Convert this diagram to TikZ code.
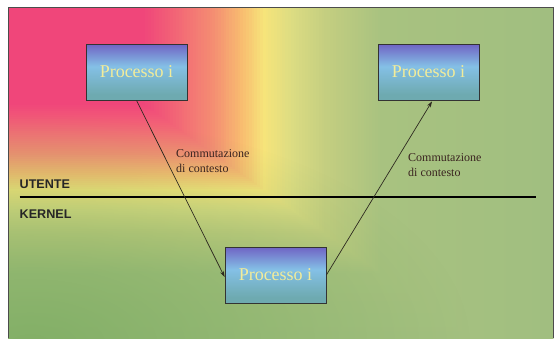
\documentclass[tikz,border=0pt]{standalone}
\usepackage{fontspec}
\setmainfont{Liberation Serif}
\newfontfamily\labsans{Liberation Sans}
\usetikzlibrary{arrows.meta,calc,fadings}
\definecolor{cpink}{HTML}{F0467A}
\definecolor{cpink2}{HTML}{F26476}
\definecolor{csalmon}{HTML}{F48E72}
\definecolor{corange}{HTML}{F8BC70}
\definecolor{cyellow}{HTML}{F6E47A}
\definecolor{cpale}{HTML}{DCDC82}
\definecolor{colive}{HTML}{C4CE80}
\definecolor{cgreen}{HTML}{A8C280}
\definecolor{cgreen2}{HTML}{A0BE80}
\definecolor{cdeep}{HTML}{74A85C}
\definecolor{boxtop}{HTML}{6A4CBC}
\definecolor{boxmid}{HTML}{84C0E6}
\definecolor{boxbot}{HTML}{6EAAB0}
\definecolor{ptext}{HTML}{F2EC9A}
\definecolor{ltext}{HTML}{3A2420}
\definecolor{arrowc}{HTML}{2E2A20}
\pgfdeclareverticalshading{boxshade}{100bp}{color(0bp)=(boxbot); color(30bp)=(boxbot); color(55bp)=(boxmid); color(80bp)=(boxtop); color(100bp)=(boxtop)}
\tikzfading[name=blobfade, inner color=transparent!0, outer color=transparent!100]
\begin{document}
\begin{tikzpicture}[x=1pt,y=-1pt,
  pbox/.style={draw=black!80, line width=0.8pt, shading=boxshade, minimum width=101pt, minimum height=56pt, inner sep=0pt, text=ptext, font=\fontsize{18}{20}\selectfont},
  lab/.style={text=ltext, font=\fontsize{12}{14.5}\selectfont, align=left, inner sep=0pt, anchor=north west},
  layer/.style={text=black!85, font=\labsans\bfseries\fontsize{12.6}{14}\selectfont, inner sep=0pt, anchor=base west},
  conn/.style={draw=arrowc, line width=0.7pt, -{Stealth[length=6pt,width=4pt]}}]
\useasboundingbox (0,0) rectangle (555,338);
\fill[white] (0,0) rectangle (555,338);
\begin{scope}
\clip (8,7) rectangle (553,338);
\foreach \ta/\tb/\ca/\cb in {268/400/cgreen/cgreen2, 228/268/colive/cgreen, 204/228/cpale/colive, 184/204/cyellow/cpale, 168/184/corange/cyellow, 148/168/csalmon/corange, 120/148/cpink2/csalmon, 98/120/cpink/cpink2, 0/98/cpink/cpink}{
  \pgfmathtruncatemacro{\n}{(\tb-\ta)/2}
  \foreach \i in {0,...,\n}{
    \pgfmathsetmacro{\t}{\tb-2*\i}
    \pgfmathtruncatemacro{\p}{100*(\t-\ta)/(\tb-\ta)}
    \colorlet{cur}{\cb!\p!\ca}
    \fill[cur] (8,7) rectangle ({8+1.40*\t},{7+\t});
  }
}
\fill[cdeep, fill opacity=0.7, path fading=blobfade] (30,345) ellipse [x radius=440, y radius=230];
\end{scope}
\draw[black!70, line width=0.8pt] (8,338) -- (8,7) -- (553,7) -- (553,338);
\node[pbox] (b1) at (136.5,72) {Processo i};
\node[pbox] (b2) at (428.5,72) {Processo i};
\node[pbox] (b3) at (275.5,275) {Processo i};
\coordinate (la) at (19.5,197);
\coordinate (lb) at (536,197);
\draw[black, line width=2pt] (la) -- (lb);
\node[layer] (ut) at (19.5,188) {UTENTE};
\node[layer] (ke) at (19.5,218) {KERNEL};
\node[lab] (c1) at (176,149.5) {Commutazione\\di contesto};
\node[lab] (c2) at (408,153.5) {Commutazione\\di contesto};
\draw[conn] (b1.south) -- ($(b3.west)+(0,2)$);
\draw[conn] (b3.east) -- ($(b2.south)+(3.5,1)$);
\end{tikzpicture}
\end{document}
